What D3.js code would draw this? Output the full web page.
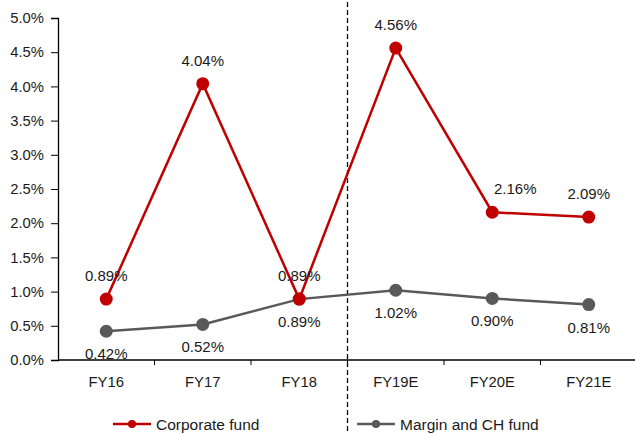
<!DOCTYPE html>
<html>
<head>
<meta charset="utf-8">
<script src="https://cdn.jsdelivr.net/npm/d3@7"></script>
<style>
  html, body { margin: 0; padding: 0; background: #fff; }
  svg { display: block; font-family: Arial, "Liberation Sans", sans-serif; }
</style>
</head>
<body>
<svg id="chart" width="635" height="434"></svg>
<script>
// Fiscal years (E = estimate)
const categories = ["FY16", "FY17", "FY18", "FY19E", "FY20E", "FY21E"];
// Values in percent
const corporateFund = [0.89, 4.04, 0.89, 4.56, 2.16, 2.09];
const marginChFund = [0.42, 0.52, 0.89, 1.02, 0.90, 0.81];
const yTicks = [0, 0.5, 1.0, 1.5, 2.0, 2.5, 3.0, 3.5, 4.0, 4.5, 5.0];
const seriesNames = ["Corporate fund", "Margin and CH fund"];
const dividerAfter = "FY18";

const svg = d3.select("#chart");
const margin = { left: 58, top: 18, bottom: 74 };
const W = 635, H = 434;
const bandW = 96.5;

const x = d3.scaleBand()
  .domain(categories)
  .range([margin.left, margin.left + bandW * categories.length])
  .paddingInner(0).paddingOuter(0);
const y = d3.scaleLinear().domain([0, 5]).range([H - margin.bottom, margin.top]);

const fmt = v => v.toFixed(1) + "%";

// Y axis
const yAxis = svg.append("g")
  .attr("transform", `translate(${margin.left},0)`)
  .call(d3.axisLeft(y).tickValues(yTicks).tickFormat(fmt).tickSize(7).tickPadding(7));
yAxis.select(".domain").attr("stroke", "#000").attr("stroke-width", 1.3);
yAxis.selectAll(".tick line").attr("stroke", "#000");
yAxis.selectAll(".tick text").attr("font-size", 14.8).attr("fill", "#1a1a1a")
  .attr("font-family", "Arial, 'Liberation Sans', sans-serif");

// X axis with ticks on band boundaries
const xAxisG = svg.append("g").attr("transform", `translate(0,${y(0)})`);
xAxisG.append("line")
  .attr("x1", margin.left).attr("x2", W)
  .attr("stroke", "#000").attr("stroke-width", 1.3);
xAxisG.selectAll(".bt")
  .data(categories.slice(1))
  .enter().append("line")
  .attr("x1", d => x(d)).attr("x2", d => x(d))
  .attr("y1", 0).attr("y2", 5)
  .attr("stroke", "#000");
xAxisG.selectAll(".xl")
  .data(categories)
  .enter().append("text")
  .attr("x", d => x(d) + x.bandwidth() / 2)
  .attr("y", 27)
  .attr("text-anchor", "middle")
  .attr("font-size", 14.8)
  .attr("fill", "#1a1a1a")
  .text(d => d);

// Divider between actuals and estimates
const divX = x(dividerAfter) + x.bandwidth();
svg.append("line")
  .attr("x1", divX).attr("x2", divX)
  .attr("y1", 2).attr("y2", H)
  .attr("stroke", "#000").attr("stroke-width", 1.3)
  .attr("stroke-dasharray", "5,3");

const cx = d => x(d) + x.bandwidth() / 2;
const line = d3.line().x(d => cx(d.c)).y(d => y(d.v));

function drawSeries(vals, color) {
  const pts = categories.map((c, i) => ({ c, v: vals[i] }));
  svg.append("path")
    .datum(pts)
    .attr("d", line)
    .attr("fill", "none")
    .attr("stroke", color)
    .attr("stroke-width", 2.5);
  svg.append("g").selectAll("circle")
    .data(pts).enter().append("circle")
    .attr("cx", d => cx(d.c)).attr("cy", d => y(d.v))
    .attr("r", 6.5).attr("fill", color);
}

drawSeries(marginChFund, "#595959");
drawSeries(corporateFund, "#C00000");

// Data labels (dxMap nudges a label sideways to keep it clear of the line)
function labels(vals, dy, dxMap) {
  svg.append("g").selectAll("text")
    .data(categories.map((c, i) => ({ c, v: vals[i] })))
    .enter().append("text")
    .attr("x", d => cx(d.c) + ((dxMap && dxMap[d.c]) || 0))
    .attr("y", d => y(d.v) + dy)
    .attr("text-anchor", "middle")
    .attr("font-size", 15)
    .attr("fill", "#1a1a1a")
    .text(d => d.v.toFixed(2) + "%");
}
labels(corporateFund, -18, { FY20E: 23 });
labels(marginChFund, 28);

// Legend
const legend = svg.append("g").attr("transform", `translate(0,${H - 10})`);
const legendItems = [
  { name: seriesNames[0], color: "#C00000", x: 113 },
  { name: seriesNames[1], color: "#595959", x: 357 }
];
legendItems.forEach(it => {
  legend.append("line")
    .attr("x1", it.x).attr("x2", it.x + 38)
    .attr("stroke", it.color).attr("stroke-width", 2.5);
  legend.append("circle")
    .attr("cx", it.x + 19).attr("r", 4).attr("fill", it.color);
  legend.append("text")
    .attr("x", it.x + 43).attr("y", 5.5)
    .attr("font-size", 15.5)
    .attr("fill", "#1a1a1a")
    .text(it.name);
});
</script>
</body>
</html>
